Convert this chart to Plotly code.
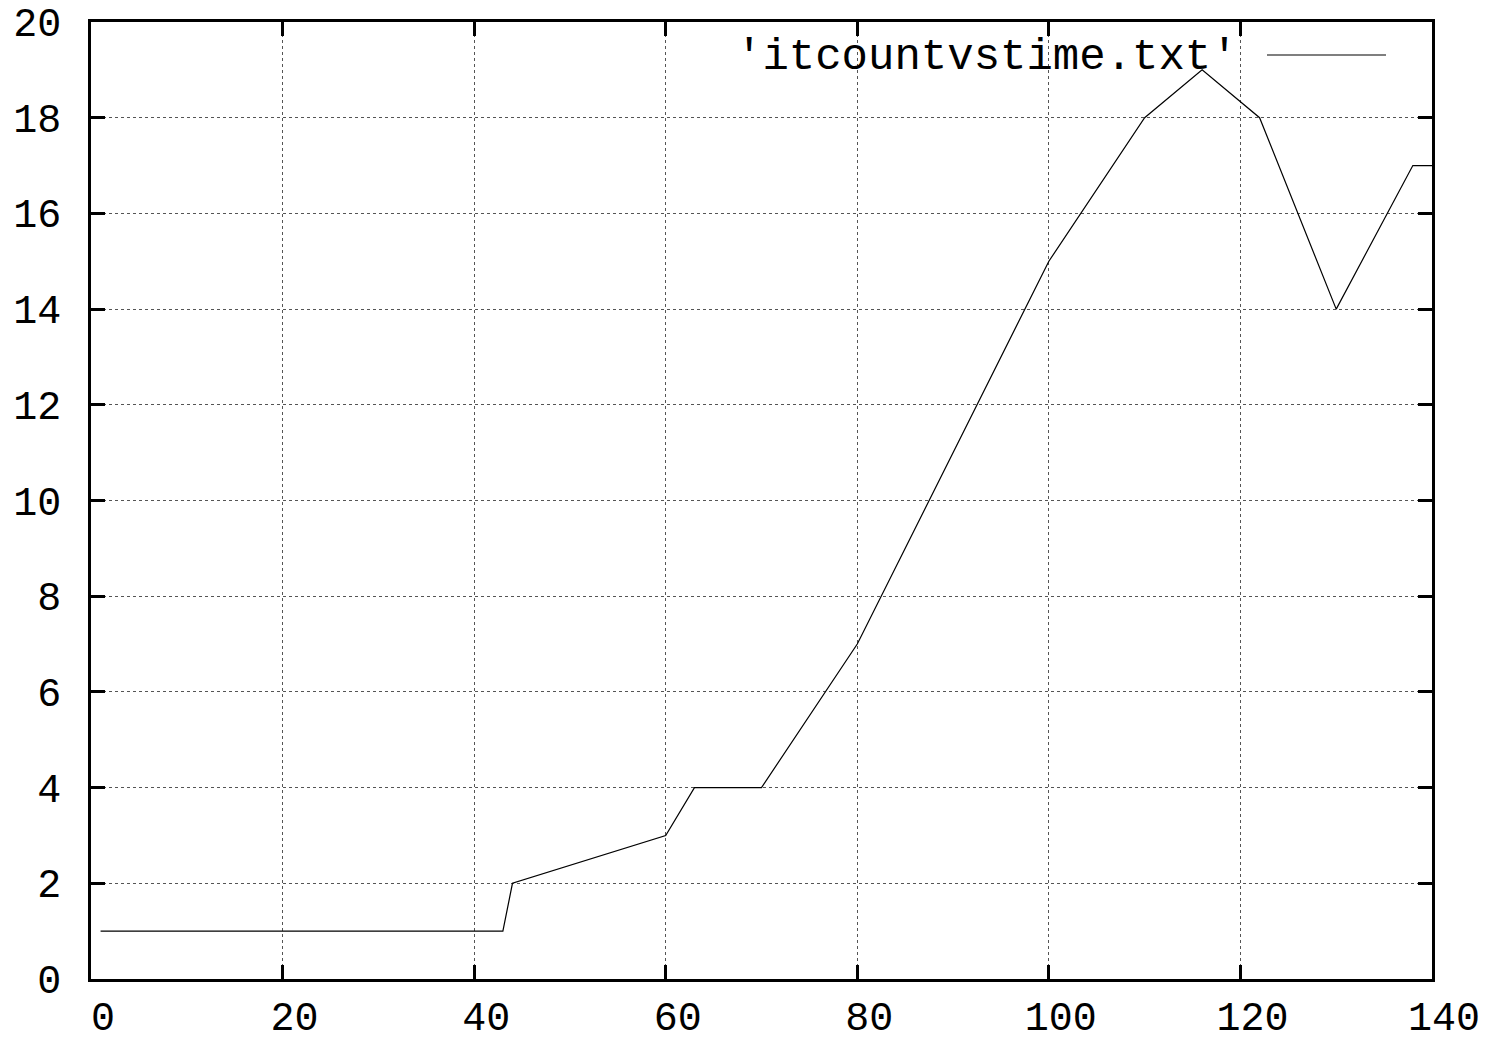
import plotly.graph_objects as go

time_s = [1, 43, 44, 60, 63, 70, 80, 100, 110, 116, 122, 130, 138, 140]
itcount = [1, 1, 2, 3, 4, 4, 7, 15, 18, 19, 18, 14, 17, 17]
x_ticks = [0, 20, 40, 60, 80, 100, 120, 140]
y_ticks = [0, 2, 4, 6, 8, 10, 12, 14, 16, 18, 20]
series_name = "'itcountvstime.txt'"

FONT = "Liberation Mono, Courier New, monospace"
TICK_SIZE = 40
KEY_SIZE = 44

fig = go.Figure()
fig.add_trace(go.Scatter(x=time_s, y=itcount, mode="lines",
                         line=dict(color="black", width=1.2),
                         name=series_name, showlegend=False))

axis_common = dict(
    showline=True, linecolor="black", linewidth=2.5, mirror="ticks",
    ticks="inside", ticklen=14, tickwidth=2.5, tickcolor="black",
    showgrid=True, gridcolor="#555555", gridwidth=1, griddash="dot",
    zeroline=False, automargin=False,
    tickfont=dict(family=FONT, size=TICK_SIZE, color="black"),
)

# gnuplot draws the x labels slightly right of the tick: emulate with a leading no-break space
fig.update_xaxes(range=[0, 140], tickvals=x_ticks,
                 ticktext=["\u00a0" + str(v) for v in x_ticks],
                 ticklabelstandoff=0, **axis_common)
fig.update_yaxes(range=[0, 20], tickvals=y_ticks, ticktext=[str(v) for v in y_ticks],
                 ticklabelstandoff=19, **axis_common)

# gnuplot-style key: text then line sample
fig.add_annotation(xref="paper", yref="paper", x=(1240 - 91) / 1341, y=(979 - 57) / 957,
                   text=series_name, showarrow=False, xanchor="right", yanchor="middle",
                   font=dict(family=FONT, size=KEY_SIZE, color="black"))
fig.add_shape(type="line", xref="paper", yref="paper",
              x0=(1267 - 91) / 1341, x1=(1386 - 91) / 1341,
              y0=(979 - 55) / 957, y1=(979 - 55) / 957,
              line=dict(color="black", width=1.2))

fig.update_layout(
    width=1488, height=1043,
    margin=dict(l=91, r=56, t=22, b=64),
    plot_bgcolor="white", paper_bgcolor="white",
    showlegend=False,
)

fig.write_html("out.html")
